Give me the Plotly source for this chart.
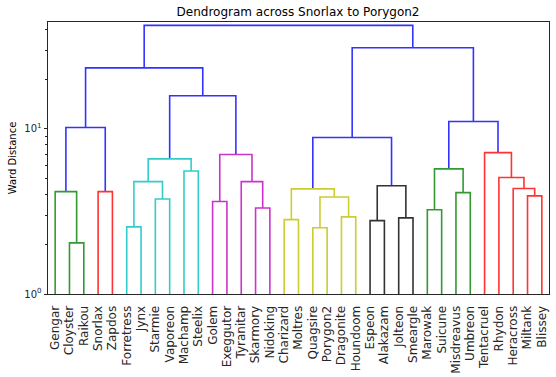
import plotly.graph_objects as go

leaves = ["Gengar", "Cloyster", "Raikou", "Snorlax", "Zapdos", "Forretress", "Jynx",
          "Starmie", "Vaporeon", "Machamp", "Steelix", "Golem", "Exeggutor", "Tyranitar",
          "Skarmory", "Nidoking", "Charizard", "Moltres", "Quagsire", "Porygon2",
          "Dragonite", "Houndoom", "Espeon", "Alakazam", "Jolteon", "Smeargle", "Marowak",
          "Suicune", "Misdreavus", "Umbreon", "Tentacruel", "Rhydon", "Heracross",
          "Miltank", "Blissey"]

# merges: (left, right, height, colour key); ints refer to earlier merges
merge_left = ["Cloyster", "Gengar", "Snorlax", 1, "Forretress", "Starmie", 4, "Machamp", 6,
              "Golem", "Skarmory", "Tyranitar", 9, 8, 3, "Charizard", "Quagsire",
              "Dragonite", 16, 15, "Espeon", "Jolteon", 20, 19, "Marowak", "Misdreavus",
              24, "Miltank", "Heracross", "Rhydon", "Tentacruel", 26, 23, 14]
merge_right = ["Raikou", 0, "Zapdos", 2, "Jynx", "Vaporeon", 5, "Steelix", 7,
               "Exeggutor", "Nidoking", 10, 11, 12, 13, "Moltres", "Porygon2",
               "Houndoom", 17, 18, "Alakazam", "Smeargle", 21, 22, "Suicune", "Umbreon",
               25, "Blissey", 27, 28, 29, 30, 31, 32]
merge_height = [2.04, 4.17, 4.17, 10.2, 2.55, 3.76, 4.79, 5.56, 6.58,
                3.63, 3.32, 4.79, 6.99, 15.85, 23.4, 2.82, 2.52,
                2.93, 3.87, 4.33, 2.78, 2.89, 4.52, 8.86, 3.24, 4.11,
                5.72, 3.93, 4.35, 5.07, 7.18, 11.07, 31.0, 42.3]
merge_color = ["g", "g", "r", "b", "c", "c", "c", "c", "c",
               "m", "m", "m", "m", "b", "b", "y", "y",
               "y", "y", "y", "k", "k", "k", "b", "g", "g",
               "g", "r", "r", "r", "r", "b", "b", "b"]

palette = {"b": "rgb(51,51,255)", "g": "rgb(51,153,51)", "r": "rgb(255,51,51)",
           "c": "rgb(51,204,204)", "m": "rgb(204,51,204)", "y": "rgb(204,204,51)",
           "k": "rgb(51,51,51)"}

y_floor = 1.0
leaf_x = {name: 5 + 10 * i for i, name in enumerate(leaves)}

pos = []  # (x, height) of each merge
segs = {k: ([], []) for k in palette}
for i in range(len(merge_height)):
    coords = []
    for node in (merge_left[i], merge_right[i]):
        if isinstance(node, str):
            coords.append((leaf_x[node], y_floor))
        else:
            coords.append(pos[node])
    h = merge_height[i]
    (x1, y1), (x2, y2) = coords
    xs, ys = segs[merge_color[i]]
    xs += [x1, x1, x2, x2, None]
    ys += [y1, h, h, y2, None]
    pos.append(((x1 + x2) / 2, h))

fig = go.Figure()
for k, (xs, ys) in segs.items():
    if xs:
        fig.add_trace(go.Scatter(x=xs, y=ys, mode="lines",
                                 line=dict(color=palette[k], width=1.6),
                                 hoverinfo="skip", showlegend=False))

axis_col = "#262626"
fig.update_layout(
    width=556, height=377,
    margin=dict(l=48, r=7, t=22, b=83),
    paper_bgcolor="white", plot_bgcolor="white",
    font=dict(family="DejaVu Sans", color=axis_col),
    title=dict(text="Dendrogram across Snorlax to Porygon2", x=0.536, xanchor="center",
               y=1 - 12 / 377, yanchor="middle", font=dict(size=12, color="black")),
    showlegend=False,
)
fig.update_xaxes(
    range=[0, 10 * len(leaves)], tickmode="array",
    tickvals=[leaf_x[n] for n in leaves], ticktext=leaves, tickangle=-90,
    tickfont=dict(size=12, color=axis_col), ticks="", ticklen=0,
    ticklabelstandoff=6, automargin=False,
    showgrid=False, zeroline=False, showline=True, linecolor=axis_col,
    linewidth=1, mirror=True,
)
fig.update_yaxes(
    type="log", range=[0, 1.647], automargin=False,
    tickmode="array", tickvals=[1, 10], ticktext=["10<sup>0</sup>", "10<sup>1</sup>"],
    tickfont=dict(size=10, color=axis_col), ticks="outside", ticklen=3.5,
    tickcolor=axis_col, tickwidth=0.8,
    minor=dict(tickmode="array", tickvals=[2, 3, 4, 5, 6, 7, 8, 9, 20, 30, 40],
               ticks="outside", ticklen=2, tickcolor=axis_col, tickwidth=0.6,
               showgrid=False),
    showgrid=False, zeroline=False, showline=True, linecolor=axis_col,
    linewidth=1, mirror=True,
    title=dict(text="Ward Distance", font=dict(size=10, color="black"), standoff=5),
)
fig.write_html("out.html")
